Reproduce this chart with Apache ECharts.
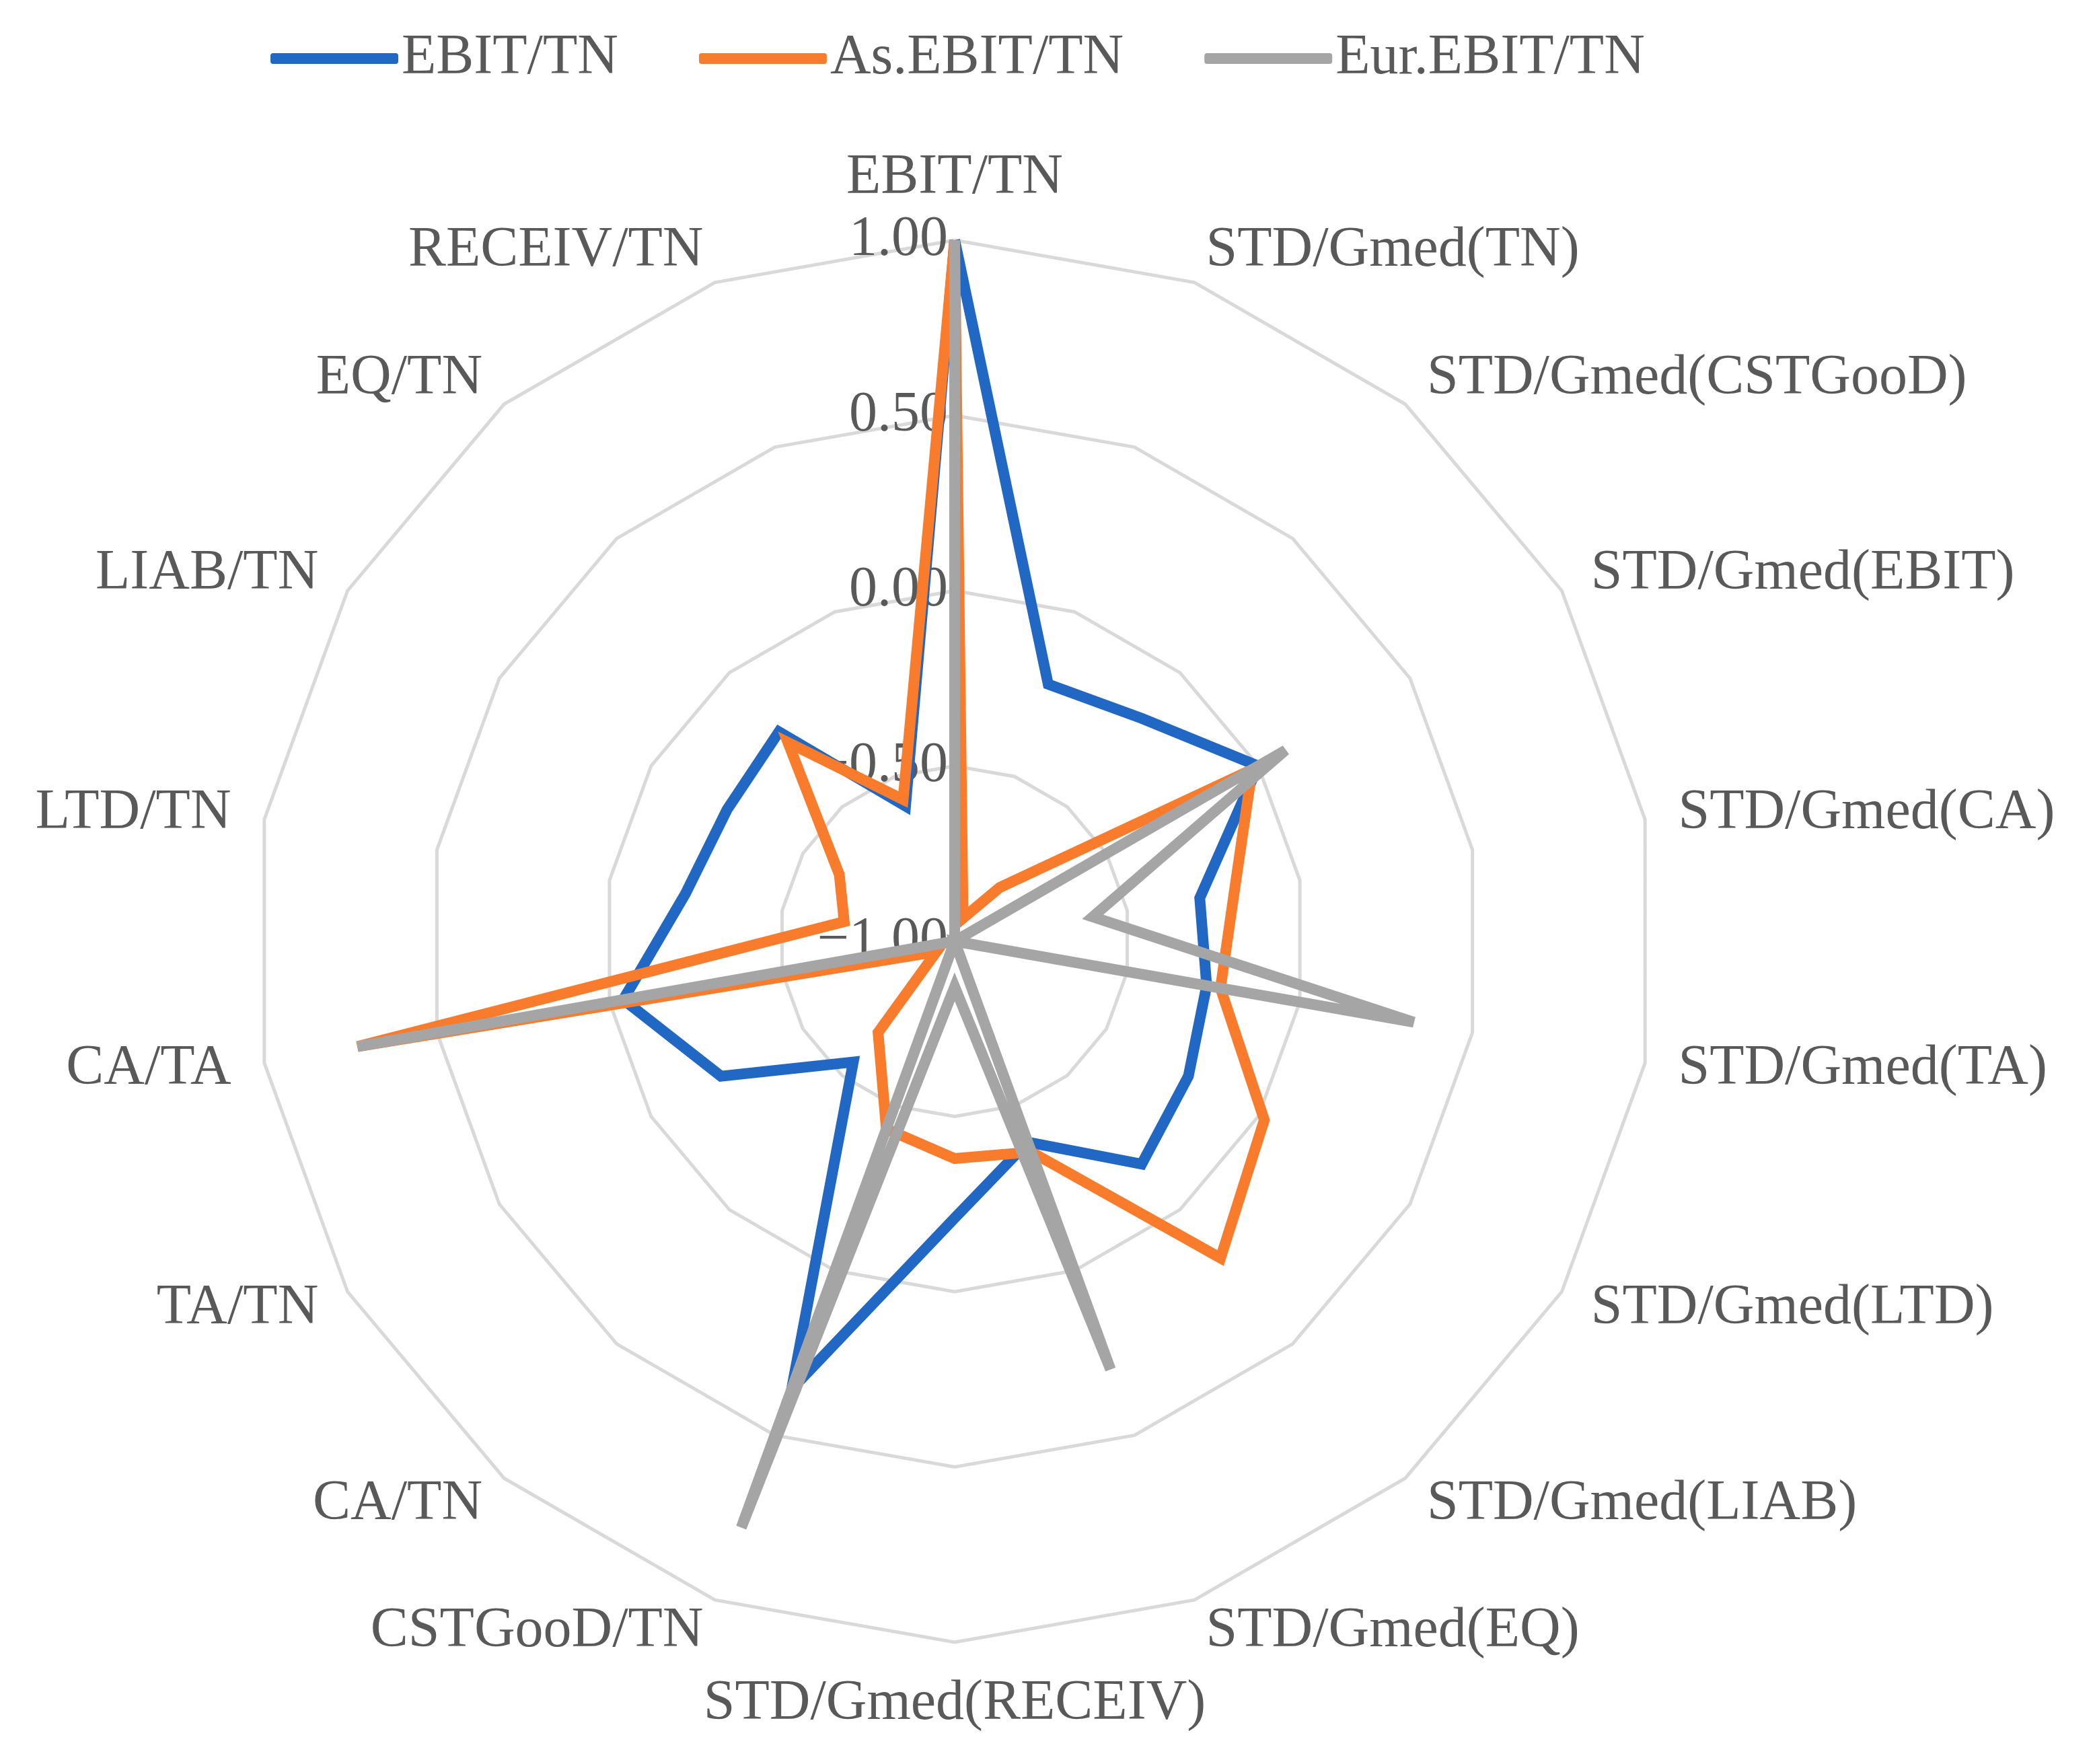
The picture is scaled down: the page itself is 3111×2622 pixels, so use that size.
<!DOCTYPE html>
<html>
<head>
<meta charset="utf-8">
<script src="https://cdn.jsdelivr.net/npm/echarts@6/dist/echarts.min.js"></script>
<style>
html,body{margin:0;padding:0;background:#fff;}
#main{width:3111px;height:2622px;}
</style>
</head>
<body>
<div id="main"></div>
<script>
// indicators, counter-clockwise from top (echarts radar draws counter-clockwise)
var indicatorNames = ["EBIT/TN", "RECEIV/TN", "EQ/TN", "LIAB/TN", "LTD/TN", "CA/TA", "TA/TN", "CA/TN", "CSTGooD/TN",
    "STD/Gmed(RECEIV)", "STD/Gmed(EQ)", "STD/Gmed(LIAB)", "STD/Gmed(LTD)", "STD/Gmed(TA)", "STD/Gmed(CA)",
    "STD/Gmed(EBIT)", "STD/Gmed(CSTGooD)", "STD/Gmed(TN)"];
var seriesNames = ["EBIT/TN", "As.EBIT/TN", "Eur.EBIT/TN"];
var seriesColors = ["#2167c4", "#f97b2c", "#a5a5a5"];
// values in clockwise order from top (EBIT/TN, STD/Gmed(TN), ... RECEIV/TN)
var ebitValues = [1.00, -0.22, -0.17, 0.00, -0.29, -0.27, -0.23, -0.17, -0.39, -0.21, 0.36, -0.55, -0.23, -0.04, -0.22, -0.25, -0.22, -0.59];
var asValues = [1.00, -0.93, -0.80, -0.02, -0.19, -0.23, 0.02, 0.18, -0.36, -0.38, -0.43, -0.66, -0.94, 0.73, -0.68, -0.62, -0.26, -0.57];
var eurValues = [1.00, -1.00, -1.00, 0.09, -0.60, 0.33, -1.00, -1.00, 0.30, -0.87, 0.78, -1.00, -1.00, 0.73, -1.00, -1.00, -1.00, -1.00];

//顺时针数据转为逆时针顺序
function toCcw(arr){
    var out = [arr[0]];
    for(var i = arr.length - 1; i > 0; i--){
        out.push(arr[i]);
    }
    return out;
}

var chart = echarts.init(document.getElementById("main"));
var fontFamily = "'Liberation Serif', 'DejaVu Serif', serif";

var indicator = [];
for(var i = 0; i < indicatorNames.length; i++){
    var item = { name: indicatorNames[i], min: -1, max: 1 };
    if(i === 0){
        item.axisLabel = { show: true };
    }
    indicator.push(item);
}

var allValues = [ebitValues, asValues, eurValues];
var seriesData = [];
for(var s = 0; s < seriesNames.length; s++){
    seriesData.push({
        name: seriesNames[s],
        value: toCcw(allValues[s]),
        symbol: "none",
        lineStyle: { color: seriesColors[s], width: 16, join: "miter" },
        itemStyle: { color: seriesColors[s] }
    });
}

var option = {
    animation: false,
    color: seriesColors,
    legend: {
        data: seriesNames,
        top: 40,
        left: 397,
        itemWidth: 190,
        itemHeight: 16,
        itemGap: 120,
        icon: "roundRect",
        textStyle: { fontFamily: fontFamily, fontSize: 84, color: "#595959" }
    },
    radar: {
        center: [1419, 1399],
        radius: 1042,
        startAngle: 90,
        shape: "polygon",
        splitNumber: 4,
        nameGap: 50,
        axisName: { fontFamily: fontFamily, fontSize: 84, color: "#595959" },
        axisLine: { show: false },
        axisTick: { show: false },
        splitArea: { show: false },
        splitLine: { lineStyle: { color: "#d9d9d9", width: 5 } },
        axisLabel: {
            show: false,
            fontFamily: fontFamily,
            fontSize: 84,
            color: "#595959",
            margin: 10,
            formatter: function(v){ return v.toFixed(2).replace("-", "\u2212"); }
        },
        indicator: indicator
    },
    series: [{
        type: "radar",
        data: seriesData
    }]
};
chart.setOption(option);
</script>
</body>
</html>
